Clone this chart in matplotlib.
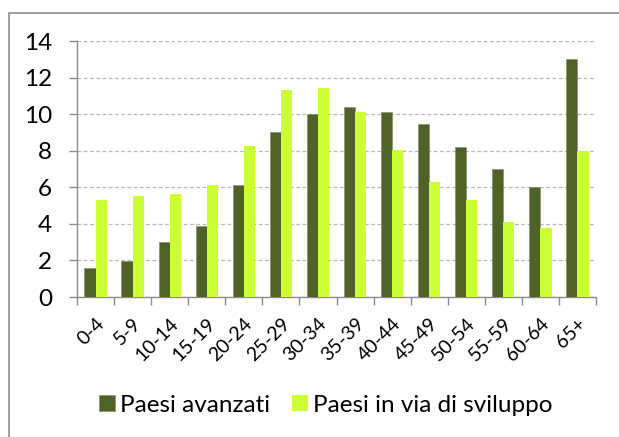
import numpy as np
import matplotlib
matplotlib.use('Agg')
import matplotlib.pyplot as plt
from matplotlib.patches import Rectangle

age_groups = ['0-4', '5-9', '10-14', '15-19', '20-24', '25-29', '30-34',
              '35-39', '40-44', '45-49', '50-54', '55-59', '60-64', '65+']
avanzati = [1.6, 1.95, 3.0, 3.9, 6.15, 9.0, 10.0, 10.4, 10.1, 9.45, 8.2, 7.0, 6.0, 13.0]
sviluppo = [5.3, 5.5, 5.65, 6.15, 8.25, 11.3, 11.45, 10.1, 8.05, 6.3, 5.3, 4.1, 3.75, 8.0]

dark = '#4F6228'
light = '#CCFF33'

plt.rcParams['font.family'] = ['Lato', 'DejaVu Sans']

fig = plt.figure(figsize=(6.19, 4.37), dpi=100)
ax = fig.add_axes([77 / 619, 1 - 297 / 437, (596 - 77) / 619, (297 - 41) / 437])

# frame around the whole chart area (runs off the right and bottom edges)
fig.patches.append(Rectangle((9 / 619, -0.1), 1.2, 1 - 13 / 437 + 0.1,
                             transform=fig.transFigure, fill=False,
                             edgecolor='#8c8c8c', linewidth=1.2))

x = np.arange(len(age_groups))
w = 0.3
ax.bar(x - w / 2, avanzati, w, color=dark, edgecolor='#7a8a5a', linewidth=0.4,
       label='Paesi avanzati', zorder=3)
ax.bar(x + w / 2, sviluppo, w, color=light, linewidth=0,
       label='Paesi in via di sviluppo', zorder=3)

ax.set_xlim(-0.5, len(age_groups) - 0.5)
ax.set_ylim(0, 14)
ax.set_yticks(range(0, 15, 2))
ax.tick_params(axis='y', labelsize=17.5, length=6, color='#8c8c8c', width=1, pad=12)
ax.yaxis.grid(True, linestyle=(0, (3, 2)), color='#b8b8b8', linewidth=0.9, zorder=0)

ax.set_xticks(np.arange(-0.5, len(age_groups), 1.0))
ax.set_xticklabels([])
ax.set_xticks(x, minor=True)
ax.set_xticklabels(age_groups, minor=True, rotation=45, ha='right', va='top',
                   rotation_mode='anchor', fontsize=14)
ax.tick_params(axis='x', which='major', length=5.5, color='#8c8c8c', width=1)
ax.tick_params(axis='x', which='minor', length=0, pad=13)

for s in ['top', 'right']:
    ax.spines[s].set_visible(False)
for s in ['left', 'bottom']:
    ax.spines[s].set_color('#8c8c8c')
    ax.spines[s].set_linewidth(1)

fig.legend(loc='center', bbox_to_anchor=(326 / 619, 1 - 405 / 437), ncol=2,
           frameon=False, fontsize=17.5, handlelength=0.66, handleheight=0.66,
           handletextpad=0.2, columnspacing=0.9, borderpad=0, borderaxespad=0)

fig.savefig('out.png', dpi=100)
